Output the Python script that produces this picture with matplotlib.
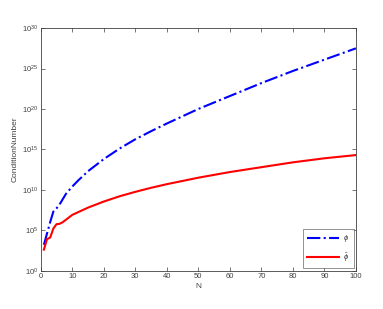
import numpy as np
import matplotlib
import matplotlib.pyplot as plt

matplotlib.use("Agg")

plt.rcParams["font.family"] = ["Liberation Sans", "DejaVu Sans"]
plt.rcParams["mathtext.fontset"] = "custom"
plt.rcParams["mathtext.rm"] = "Liberation Sans"
plt.rcParams["mathtext.it"] = "Liberation Sans:italic"

# values (log10 of condition number)
n_phi = [1, 2, 3, 4, 5, 6, 8, 10, 12, 15, 20, 25, 30, 35, 40, 50, 60, 70, 80, 90, 100]
log_phi = [3.2, 4.6, 6.0, 7.3, 7.7, 8.2, 9.5, 10.4, 11.2, 12.3, 13.8, 15.1, 16.25,
           17.25, 18.2, 20.0, 21.6, 23.2, 24.7, 26.1, 27.5]

n_phit = [1, 2, 3, 4, 5, 6, 7, 10, 15, 20, 25, 30, 35, 40, 50, 60, 70, 80, 90, 100]
log_phit = [2.6, 3.9, 4.1, 5.2, 5.75, 5.8, 6.0, 6.9, 7.8, 8.55, 9.2, 9.75,
            10.25, 10.7, 11.5, 12.2, 12.8, 13.4, 13.9, 14.3]

labels = [r"$\phi$", r"$\tilde{\phi}$"]

axis_col = "#404040"

fig = plt.figure(figsize=(3.83, 3.09), dpi=100)
ax = fig.add_axes([0.1063, 0.124, 0.823, 0.785])

ax.semilogy(n_phi, 10.0 ** np.array(log_phi), color=(0, 0, 1), lw=1.5,
            linestyle="-.", label=labels[0])
ax.semilogy(n_phit, 10.0 ** np.array(log_phit), color=(1, 0, 0), lw=1.5,
            label=labels[1])

ax.set_xlim(0, 100)
ax.set_ylim(1, 1e30)
ax.set_xticks(np.arange(0, 101, 10))
ax.set_yticks([10.0 ** k for k in range(0, 31, 5)])
ax.minorticks_off()

ax.tick_params(direction="in", length=3, width=0.5, labelsize=5.5,
               colors=axis_col, top=True, right=True, pad=2)
for sp in ax.spines.values():
    sp.set_color(axis_col)
    sp.set_linewidth(0.6)

ax.set_xlabel("N", fontsize=6, color=axis_col, labelpad=2)
ax.set_ylabel("ConditionNumber", fontsize=6, color=axis_col, labelpad=2)

leg = ax.legend(loc="lower right", fontsize=5.5, handlelength=4.2,
                fancybox=False, borderpad=0.6, labelspacing=0.9,
                handletextpad=0.5, borderaxespad=0.3)
leg.get_frame().set_edgecolor(axis_col)
leg.get_frame().set_linewidth(0.5)
for t in leg.get_texts():
    t.set_color(axis_col)

fig.savefig("out.png", dpi=100)
